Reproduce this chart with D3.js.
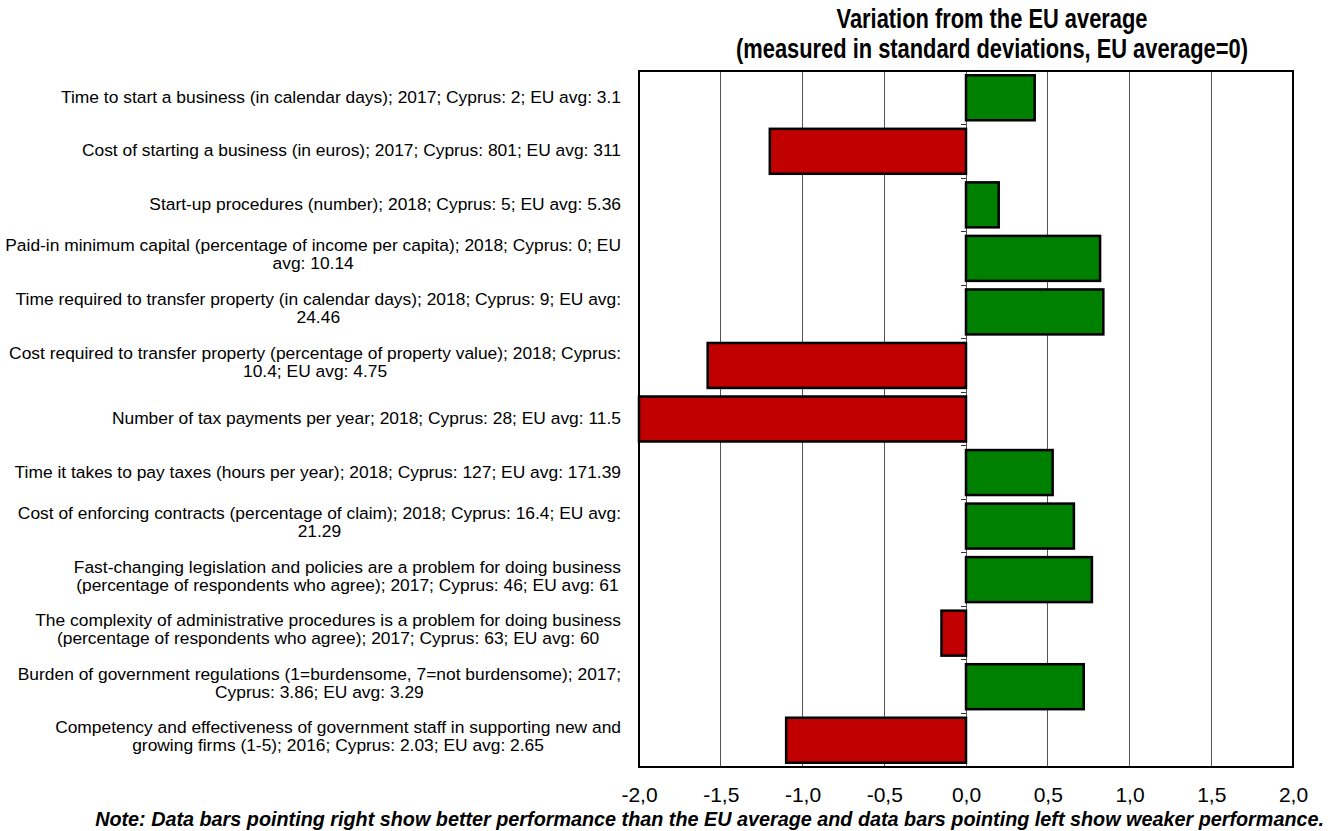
<!DOCTYPE html>
<html><head><meta charset="utf-8">
<script src="https://cdn.jsdelivr.net/npm/d3@7"></script>
<style>body{margin:0;background:#fff}</style>
</head><body>
<svg id="c" width="1328" height="831"></svg>
<script>
const categories = [
  ["Time to start a business (in calendar days); 2017; Cyprus: 2; EU avg: 3.1"],
  ["Cost of starting a business (in euros); 2017; Cyprus: 801; EU avg: 311"],
  ["Start-up procedures (number); 2018; Cyprus: 5; EU avg: 5.36"],
  ["Paid-in minimum capital (percentage of income per capita); 2018; Cyprus: 0; EU", "avg: 10.14"],
  ["Time required to transfer property (in calendar days); 2018; Cyprus: 9; EU avg:", "24.46"],
  ["Cost required to transfer property (percentage of property value); 2018; Cyprus:", "10.4; EU avg: 4.75"],
  ["Number of tax payments per year; 2018; Cyprus: 28; EU avg: 11.5"],
  ["Time it takes to pay taxes (hours per year); 2018; Cyprus: 127; EU avg: 171.39"],
  ["Cost of enforcing contracts (percentage of claim); 2018; Cyprus: 16.4; EU avg:", "21.29"],
  ["Fast-changing legislation and policies are a problem for doing business", "(percentage of respondents who agree); 2017; Cyprus: 46; EU avg: 61"],
  ["The complexity of administrative procedures is a problem for doing business", "(percentage of respondents who agree); 2017; Cyprus: 63; EU avg: 60"],
  ["Burden of government regulations (1=burdensome, 7=not burdensome); 2017;", "Cyprus: 3.86; EU avg: 3.29"],
  ["Competency and effectiveness of government staff in supporting new and", "growing firms (1-5); 2016; Cyprus: 2.03; EU avg: 2.65"]
];
const values = [0.42, -1.2, 0.2, 0.82, 0.84, -1.58, -2.0, 0.53, 0.66, 0.77, -0.15, 0.72, -1.1];
const tickValues = [-2, -1.5, -1, -0.5, 0, 0.5, 1, 1.5, 2];
const tickLabels = ["-2,0", "-1,5", "-1,0", "-0,5", "0,0", "0,5", "1,0", "1,5", "2,0"];
const titleLines = ["Variation from the EU average", "(measured in standard deviations, EU average=0)"];
const note = "Note: Data bars pointing right show better performance than the EU average and data bars pointing left show weaker performance.";

const svg = d3.select("#c");
const L = 639, R = 1293, T = 71, B = 767;
const font = "'Liberation Sans', Arial, sans-serif";
const x = d3.scaleLinear().domain([-2, 2]).range([L, R]);
const idx = d3.range(categories.length);
const y = d3.scaleBand().domain(idx).range([T, B]).paddingInner(0.16).paddingOuter(0.08);
const yb = d3.scaleBand().domain(idx).range([T, B]);

// gridlines
svg.append("g").selectAll("line").data(tickValues.slice(1, -1)).join("line")
  .attr("x1", d => x(d)).attr("x2", d => x(d)).attr("y1", T).attr("y2", B)
  .attr("stroke", "#555").attr("stroke-width", 1).attr("shape-rendering", "crispEdges");

// small category ticks at zero axis
svg.append("g").selectAll("line").data(d3.range(1, categories.length)).join("line")
  .attr("x1", x(0) - 5).attr("x2", x(0)).attr("y1", d => yb(d)).attr("y2", d => yb(d))
  .attr("stroke", "#333").attr("stroke-width", 1).attr("shape-rendering", "crispEdges");

// bars
svg.append("g").selectAll("rect").data(values).join("rect")
  .attr("x", d => x(Math.min(0, d)))
  .attr("width", d => Math.abs(x(d) - x(0)))
  .attr("y", (d, i) => y(i)).attr("height", y.bandwidth())
  .attr("fill", d => d >= 0 ? "#008000" : "#C00000")
  .attr("stroke", "#000").attr("stroke-width", 2.5);

// frame
svg.append("rect").attr("x", L).attr("y", T).attr("width", R - L).attr("height", B - T)
  .attr("fill", "none").attr("stroke", "#000").attr("stroke-width", 1.3).attr("shape-rendering", "crispEdges");

// x axis labels
const xAxis = d3.axisBottom(x).tickValues(tickValues).tickFormat((d, i) => tickLabels[i]).tickSize(0).tickPadding(0);
const gx = svg.append("g").attr("transform", `translate(0,${B + 20})`).call(xAxis);
gx.select(".domain").remove();
gx.selectAll("text").attr("font-family", font).attr("font-size", 21).attr("fill", "#000").attr("dy", "0.71em");

// category labels
const labelRight = 621, lineH = 18;
categories.forEach((lines, i) => {
  const cy = yb(i) + yb.bandwidth() / 2 - (lines.length === 2 ? 4 : 1);
  const g = svg.append("g");
  const texts = lines.map((t, j) => g.append("text").text(t)
    .attr("font-family", font).attr("font-size", 17.4).attr("fill", "#000")
    .attr("text-anchor", "middle")
    .attr("y", cy + (j - (lines.length - 1) / 2) * lineH).attr("dy", "0.35em"));
  const w = d3.max(texts, t => t.node().getComputedTextLength());
  texts.forEach(t => t.attr("x", labelRight - w / 2));
});

// title (condensed bold)
svg.append("g").attr("transform", "translate(992,0) scale(0.81,1)")
  .selectAll("text").data(titleLines).join("text")
  .attr("x", 0).attr("y", (d, i) => 28 + i * 30)
  .attr("text-anchor", "middle").attr("font-family", font).attr("font-weight", "bold")
  .attr("font-size", 27).text(d => d);

// note
svg.append("text").attr("x", 1324).attr("y", 819).attr("dy", "0.35em")
  .attr("text-anchor", "end").attr("font-family", font).attr("font-weight", "bold")
  .attr("font-style", "italic").attr("font-size", 19.8).text(note);
</script>
</body></html>
